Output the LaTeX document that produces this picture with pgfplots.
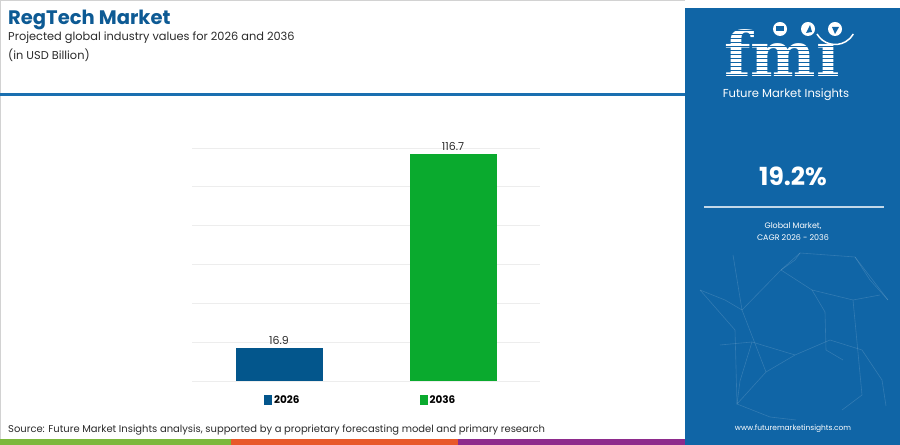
\documentclass[border=0pt]{standalone}
\usepackage{pgfplots}
\pgfplotsset{compat=1.18}
\usepackage{fontspec}
\setmainfont{Poppins}
\newfontfamily\serifbold{DejaVu Serif}
\definecolor{titleblue}{HTML}{0D5A94}
\definecolor{panelblue}{HTML}{1065A6}
\definecolor{bar1}{HTML}{03568C}
\definecolor{bar2}{HTML}{0AAA2E}
\definecolor{sepblue}{HTML}{1A6FB0}
\definecolor{sgreen}{HTML}{7CB83C}
\definecolor{sorange}{HTML}{E8582A}
\definecolor{spurple}{HTML}{8E2B8C}
\definecolor{txt}{HTML}{2B2B2B}
\begin{document}
\begin{tikzpicture}[x=1bp,y=1bp]
\useasboundingbox (0,0) rectangle (900,445);
\fill[white] (0,0) rectangle (900,445);
% left panel border
\draw[gray!35,line width=1bp] (0.5,0) -- (0.5,444.5) -- (685,444.5);
% title
\node[anchor=west,inner sep=0,text=titleblue,font=\bfseries\fontsize{19.6}{22}\selectfont] at (8,425) {RegTech Market};
\node[anchor=west,inner sep=0,text=txt,font=\fontsize{11.4}{13}\selectfont] at (8,407) {Projected global industry values for 2026 and 2036};
\node[anchor=west,inner sep=0,text=txt,font=\fontsize{11.4}{13}\selectfont] at (8,390) {(in USD Billion)};
\fill[sepblue] (0,348.5) rectangle (686,351.5);
% right panel
\fill[panelblue] (685,0) rectangle (900,437);
\begin{scope}[white,opacity=0.14,line width=0.6bp]
\draw (733,190) -- (742,135) -- (766,73) -- (737,41) -- (735,115) -- (700,155);
\draw (742,135) -- (781,175) -- (800,192) -- (855,188) -- (888,145);
\draw (781,175) -- (812,155) -- (853,145) -- (880,150);
\draw (766,73) -- (795,90) -- (830,105) -- (862,95) -- (882,65);
\draw (720,100) -- (752,103) -- (795,90);
\draw (812,155) -- (825,133) -- (826,95) -- (843,85);
\draw (853,145) -- (862,50) -- (842,35);
\draw (700,155) -- (725,145) -- (742,135);
\draw (737,41) -- (770,28) -- (796,25);
\draw (800,192) -- (795,185) -- (781,175);
\draw (855,188) -- (870,165) -- (888,145);
\draw (882,65) -- (886,39);
\draw (752,103) -- (740,64) -- (737,41);
\end{scope}
% logo
\node[anchor=base west,inner sep=0,text=white,font=\serifbold\bfseries\fontsize{62}{62}\selectfont] (logo) at (724,368) {fm^^^^0131};
\foreach \yy in {370,374,...,418} {\fill[panelblue] (715,\yy) rectangle (850,\yy+1.3);}
\fill[white] (780,416) circle (7);
\fill[white] (808,416) circle (7);
\fill[white] (835,416) circle (7);
\fill[panelblue] (776,414) rectangle (784,419);
\fill[panelblue] (806,412) -- (810,420) -- (812,413) -- cycle;
\fill[panelblue] (832,418) -- (839,418) -- (835,411) -- cycle;
\draw[white,line width=1.5bp] (817,411) arc[start angle=210,end angle=330,radius=21];
\node[inner sep=0,text=white,font=\fontsize{11.6}{13}\selectfont] at (786,350) {Future Market Insights};
\node[inner sep=0,text=white,font=\bfseries\fontsize{25}{28}\selectfont] at (793,269) {19.2\%};
\draw[white!75!panelblue,line width=1.5bp] (704,238) -- (884,238);
\node[inner sep=0,text=white,font=\fontsize{8}{10}\selectfont] at (793,219) {Global Market,};
\node[inner sep=0,text=white,font=\fontsize{8}{10}\selectfont] at (793,207) {CAGR 2026 - 2036};
\node[inner sep=0,text=white,font=\fontsize{7.5}{9}\selectfont] at (793,16) {www.futuremarketinsights.com};
% source
\node[anchor=west,inner sep=0,text=txt,font=\fontsize{10}{12}\selectfont] at (8,15) {Source: Future Market Insights analysis, supported by a proprietary forecasting model and primary research};
% stripe
\fill[sgreen] (0,0) rectangle (231,6);
\fill[sorange] (231,0) rectangle (458,6);
\fill[spurple] (458,0) rectangle (685,6);
% chart
\begin{axis}[
  at={(192bp,64bp)}, anchor=south west,
  width=348bp, height=233bp, scale only axis,
  ybar, bar width=87bp, bar shift=0pt,
  xmin=-0.5, xmax=1.5, ymin=0, ymax=120,
  ytick={0,20,...,120}, yticklabels={},
  xtick=\empty,
  ymajorgrids, grid style={draw=black!7,line width=0.8bp},
  axis line style={draw=none},
  major tick length=0pt,
  nodes near coords,
  nodes near coords style={text=txt,font=\fontsize{11}{13}\selectfont,/pgf/number format/fixed,/pgf/number format/precision=1,/pgf/number format/assume math mode=true},
  legend style={at={(0.485,-0.082)},anchor=center,draw=none,fill=none,
    legend columns=2,font=\bfseries\fontsize{10.5}{12}\selectfont,
    /tikz/every even column/.append style={column sep=118bp}},
  legend image code/.code={\fill[#1] (0bp,-5bp) rectangle (8bp,5bp);},
]
\addplot[fill=bar1,draw=none] coordinates {(0,16.9)};
\addlegendentry{2026}
\addplot[fill=bar2,draw=none] coordinates {(1,116.7)};
\addlegendentry{2036}
\end{axis}
\end{tikzpicture}
\end{document}
